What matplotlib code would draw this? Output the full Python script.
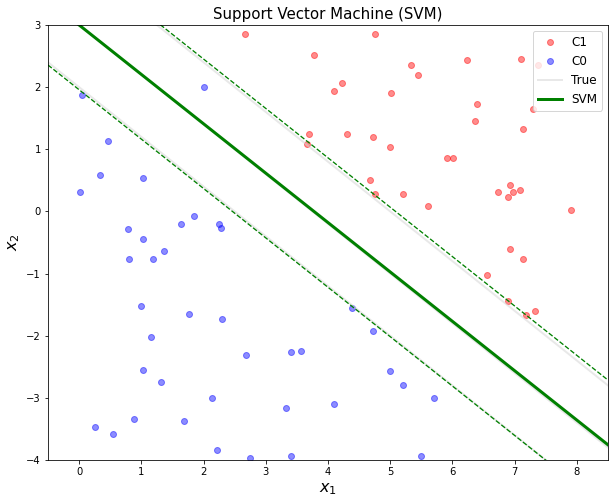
import numpy as np
import matplotlib
matplotlib.use("Agg")
import matplotlib.pyplot as plt

# class 1 points (red)
c1_x1 = [2.66, 3.77, 4.76, 4.23, 4.10, 5.33, 5.45, 5.02, 6.23, 7.10, 7.38, 6.39, 7.29,
         6.36, 7.14, 3.69, 3.67, 4.30, 4.72, 5.00, 5.92, 6.01, 4.68, 4.75, 5.21, 5.60,
         6.74, 6.92, 6.98, 7.08, 6.90, 7.90, 6.93, 7.14, 6.55, 6.89, 7.18, 7.32]
c1_x2 = [2.86, 2.52, 2.86, 2.07, 1.94, 2.35, 2.20, 1.91, 2.43, 2.46, 2.35, 1.73, 1.65,
         1.46, 1.33, 1.25, 1.09, 1.24, 1.20, 1.04, 0.86, 0.86, 0.51, 0.28, 0.28, 0.08,
         0.32, 0.43, 0.31, 0.35, 0.24, 0.03, -0.60, -0.77, -1.02, -1.44, -1.66, -1.60]

# class 0 points (blue)
c0_x1 = [0.04, 2.00, 0.46, 0.33, 1.02, 0.02, 1.64, 1.85, 2.25, 2.28, 0.79, 1.02, 1.37,
         0.80, 1.18, 1.00, 1.77, 2.29, 1.15, 2.69, 3.40, 3.56, 1.02, 1.31, 2.13, 3.32,
         4.09, 0.26, 0.54, 0.89, 1.68, 2.21, 2.75, 3.41, 4.39, 4.72, 5.00, 5.21, 5.70, 5.49]
c0_x2 = [1.88, 2.01, 1.14, 0.59, 0.53, 0.32, -0.20, -0.07, -0.21, -0.26, -0.29, -0.44, -0.63,
         -0.76, -0.77, -1.52, -1.65, -1.73, -2.02, -2.31, -2.26, -2.24, -2.55, -2.74, -3.00, -3.16,
         -3.10, -3.47, -3.58, -3.34, -3.37, -3.84, -3.97, -3.93, -1.55, -1.92, -2.57, -2.79, -3.00, -3.93]

# boundaries: w1*x1 + w2*x2 + b = 0, margins at +-1
true_w = [0.8, 1.0]
true_b = -3.0
svm_w = [0.763, 0.96]
svm_b = -2.88

xx = np.linspace(-0.5, 8.5, 100)

def line(w, b, m):
    return -(w[0] * xx + b - m) / w[1]

fig = plt.figure(figsize=(613 / 72, 503 / 72), dpi=72)
ax = fig.add_axes([48 / 613, 43 / 503, 560 / 613, 435 / 503])

ax.plot(c1_x1, c1_x2, 'o', color='red', alpha=0.45, label='C1')
ax.plot(c0_x1, c0_x2, 'o', color='blue', alpha=0.45, label='C0')

ax.plot(xx, line(true_w, true_b, 0), color='lightgray', lw=2, alpha=0.5, label='True')
ax.plot(xx, line(true_w, true_b, 1), color='lightgray', lw=2, alpha=0.5)
ax.plot(xx, line(true_w, true_b, -1), color='lightgray', lw=2, alpha=0.5)

ax.plot(xx, line(svm_w, svm_b, 0), color='green', lw=3, label='SVM')
ax.plot(xx, line(svm_w, svm_b, 1), 'g--', lw=1.3)
ax.plot(xx, line(svm_w, svm_b, -1), 'g--', lw=1.3)

ax.set_xlim(-0.5, 8.5)
ax.set_ylim(-4, 3)
ax.set_title('Support Vector Machine (SVM)', fontsize=15)
ax.set_xlabel('$x_1$', fontsize=16)
ax.set_ylabel('$x_2$', fontsize=16)
ax.legend(loc='upper right', fontsize=12)

fig.savefig('out.png', dpi=72)
